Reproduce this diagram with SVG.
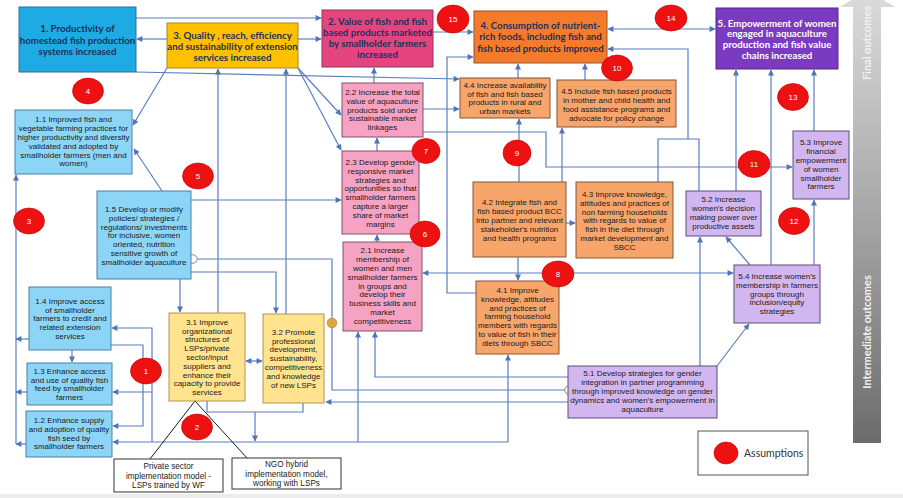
<svg xmlns="http://www.w3.org/2000/svg" width="903" height="498" viewBox="0 0 903 498">
<defs>
<marker id="ah" viewBox="0 0 10 10" refX="9" refY="5" markerWidth="7" markerHeight="6" markerUnits="userSpaceOnUse" orient="auto-start-reverse"><path d="M0,0 L10,5 L0,10 z" fill="#4F74BA"/></marker>
<linearGradient id="gg" x1="0" y1="0" x2="0" y2="1"><stop offset="0" stop-color="#dcdcdc"/><stop offset="0.5" stop-color="#a6a6a6"/><stop offset="1" stop-color="#6c6c6c"/></linearGradient>
</defs>
<style>
.c{fill:none;stroke:#5B7EC2;stroke-width:1.2}
.a{marker-end:url(#ah)}
.b{marker-start:url(#ah);marker-end:url(#ah)}
.t{font-family:"Lato","Liberation Sans",sans-serif;font-weight:bold;font-size:9.7px;fill:#1F2F5E;text-anchor:middle}
.s{font-family:"Liberation Sans",Arial,sans-serif;font-size:8px;fill:#1a1a1a;text-anchor:middle}
.bl{fill:#8DD5F6;stroke:#4A7FA6;stroke-width:1}
.gl{fill:#FFE38F;stroke:#B3964D;stroke-width:1}
.pl{fill:#F6A2C2;stroke:#7E5266;stroke-width:1}
.ol{fill:#F7A56B;stroke:#7E5638;stroke-width:1}
.vl{fill:#D2B6F0;stroke:#5B4C78;stroke-width:1}
.wb{fill:#fff;stroke:#333;stroke-width:1}
.r{fill:#EE1111;stroke:#C00000;stroke-width:0.6}
.rn{font-family:"Liberation Sans",Arial,sans-serif;font-size:8px;fill:#fff;text-anchor:middle}
</style>
<rect width="903" height="498" fill="#fff"/>
<rect x="0" y="494" width="903" height="4" fill="#ececec"/>
<!-- outcome arrow -->
<g id="outcome-arrow">
<polygon points="853,443 881,443 881,7 895,7 867,-10 840,7 853,7" fill="url(#gg)"/>
<text transform="translate(871,43) rotate(-90)" font-family="Lato,'Open Sans',sans-serif" font-weight="bold" font-size="11px" fill="#f2f2f2" text-anchor="middle">Final outcomes</text>
<text transform="translate(871,332) rotate(-90)" font-family="Lato,'Open Sans',sans-serif" font-weight="bold" font-size="11px" fill="#f2f2f2" text-anchor="middle">Intermediate outcomes</text>
</g>
<!-- connectors -->
<g id="connectors">
<path class="c a" d="M136,18 H321"/>
<path class="c a" d="M167,39 H137"/>
<path class="c a" d="M298,39 H321"/>
<path class="c a" d="M136,72 L459,79"/>
<path class="c a" d="M433,32 H473"/>
<path class="c b" d="M608,29 H715"/>
<path class="c" d="M658,182 V139 H699 V191"/>
<path class="c a" d="M688,139 V49 H608"/>
<path class="c a" d="M736,191 V70"/>
<path class="c a" d="M771,265 V70"/>
<path class="c a" d="M814,131 V70"/>
<path class="c a" d="M814,265 V200"/>
<path class="c a" d="M750,265 L726,237"/>
<path class="c a" d="M700,366 V237"/>
<path class="c a" d="M717,366 L749,324"/>
<path class="c a" d="M423,132 H546 V167 H792"/>
<path class="c a" d="M423,109 H459"/>
<path class="c a" d="M518,78 V64"/>
<path class="c a" d="M585,80 V64"/>
<path class="c a" d="M476,293 H447 V57 H473"/>
<path class="c a" d="M519,182 V119"/>
<path class="c a" d="M562,182 V128"/>
<path class="c a" d="M566,223 H575"/>
<path class="c a" d="M518,257 V280"/>
<path class="c b" d="M423,273 H733"/>
<path class="c a" d="M377,242 V235"/>
<path class="c a" d="M377,151 V138"/>
<path class="c a" d="M374,83 V68"/>
<path class="c a" d="M298,68 L341,115"/>
<path class="c a" d="M298,68 L341,150"/>
<path class="c a" d="M218,313 V69"/>
<path class="c a" d="M286,314 V69"/>
<path class="c a" d="M167,68 L133,125"/>
<path class="c a" d="M162,191 L134,149"/>
<path class="c a" d="M16,444 V175"/>
<path class="c a" d="M29,339 H16"/>
<path class="c a" d="M27,392 H16"/>
<path class="c a" d="M26,444 H16"/>
<path class="c a" d="M72,350 V362"/>
<path class="c" d="M207,401 V412 H303 V403"/>
<path class="c a" d="M255,412 V441"/>
<path class="c b" d="M113,442 H508 V355"/>
<path class="c a" d="M358,442 V332"/>
<path class="c a" d="M152,442 V328 H112"/>
<path class="c a" d="M152,392 H113"/>
<path class="c a" d="M111,345 H143 V426 H113"/>
<path class="c a" d="M568,377 H375 V332"/>
<path class="c a" d="M180,279 V312"/>
<path class="c a" d="M191,272 H276 V313"/>
<path class="c a" d="M191,200 H341"/>
<path class="c" d="M197,259 H332 V390 H565"/>
<path class="c a" d="M568,402 H326"/>
<path class="c b" d="M246,361 H262"/>
<path d="M150,459 L195,401 L247,458" fill="none" stroke="#1a1a1a" stroke-width="1"/>
<circle cx="193" cy="259" r="4.2" fill="#fff" stroke="#888" stroke-width="1"/>
<circle cx="569" cy="390" r="4.2" fill="#fff" stroke="#888" stroke-width="1"/>
<circle cx="332" cy="323" r="4.8" fill="#E3A63E" stroke="#B58A40" stroke-width="0.8"/>
</g>
<!-- final outcomes -->
<g id="n1"><rect x="19" y="7" width="117" height="65" fill="#1EABE4" stroke="#2F6E9E"/>
<text class="t"><tspan x="77.5" y="32">1. Productivity of</tspan><tspan x="77.5" y="43.5">homestead fish production</tspan><tspan x="77.5" y="55">systems increased</tspan></text></g>
<g id="n3"><rect x="167" y="23" width="131" height="45" fill="#FFC000" stroke="#A8862A"/>
<text class="t"><tspan x="232.5" y="38.7">3. Quality , reach, efficiency</tspan><tspan x="232.5" y="49.7">and sustainability of extension</tspan><tspan x="232.5" y="60.7">services increased</tspan></text></g>
<g id="n2"><rect x="322" y="10" width="111" height="57" fill="#E5457E" stroke="#8E3456"/>
<text class="t"><tspan x="377.5" y="25">2. Value of fish and fish</tspan><tspan x="377.5" y="36">based products marketed</tspan><tspan x="377.5" y="47">by smallholder farmers</tspan><tspan x="377.5" y="58">increased</tspan></text></g>
<g id="n4"><rect x="474" y="11" width="133" height="52" fill="#F47B2C" stroke="#9A5228"/>
<text class="t"><tspan x="540.5" y="29">4. Consumption of nutrient-</tspan><tspan x="540.5" y="40.3">rich foods, including fish and</tspan><tspan x="540.5" y="51.6">fish based products improved</tspan></text></g>
<g id="n5"><rect x="716" y="8" width="122" height="61" fill="#7B3AC2" stroke="#4E2A80"/>
<text class="t" style="fill:#fff"><tspan x="777" y="26.5">5. Empowerment of women</tspan><tspan x="777" y="37.2">engaged in aquaculture</tspan><tspan x="777" y="47.9">production and fish value</tspan><tspan x="777" y="58.6">chains increased</tspan></text></g>
<!-- intermediate -->
<g id="n1_1"><rect class="bl" x="15" y="110" width="117" height="64"/>
<text class="s"><tspan x="73.5" y="122.3">1.1 Improved fish and</tspan><tspan x="73.5" y="131.1">vegetable farming practices for</tspan><tspan x="73.5" y="139.9">higher productivity and diversity</tspan><tspan x="73.5" y="148.7">validated and adopted by</tspan><tspan x="73.5" y="157.5">smallholder farmers (men and</tspan><tspan x="73.5" y="166.3">women)</tspan></text></g>
<g id="n1_5"><rect class="bl" x="97" y="191" width="94" height="88"/>
<text class="s"><tspan x="144" y="212">1.5 Develop or modify</tspan><tspan x="144" y="220.8">policies/ strategies /</tspan><tspan x="144" y="229.6">regulations/  investments</tspan><tspan x="144" y="238.4">for inclusive, women</tspan><tspan x="144" y="247.2">oriented, nutrition</tspan><tspan x="144" y="256">sensitive growth of</tspan><tspan x="144" y="264.8">smallholder aquaculture</tspan></text></g>
<g id="n1_4"><rect class="bl" x="29" y="287" width="82" height="63"/>
<text class="s"><tspan x="70" y="303.7">1.4 Improve access</tspan><tspan x="70" y="312.5">of smallholder</tspan><tspan x="70" y="321.3">farmers to credit and</tspan><tspan x="70" y="330.1">related extension</tspan><tspan x="70" y="338.9">services</tspan></text></g>
<g id="n1_3"><rect class="bl" x="27" y="363" width="85" height="42"/>
<text class="s"><tspan x="69.5" y="373.7">1.3 Enhance access</tspan><tspan x="69.5" y="382.5">and use of quality fish</tspan><tspan x="69.5" y="391.3">feed by smallholder</tspan><tspan x="69.5" y="400.1">farmers</tspan></text></g>
<g id="n1_2"><rect class="bl" x="26" y="411" width="86" height="46"/>
<text class="s"><tspan x="69" y="423">1.2 Enhance supply</tspan><tspan x="69" y="431.8">and adoption of quality</tspan><tspan x="69" y="440.6">fish seed by</tspan><tspan x="69" y="449.4">smallholder farmers</tspan></text></g>
<g id="n3_1"><rect class="gl" x="169" y="313" width="76" height="88"/>
<text class="s"><tspan x="207" y="324.7">3.1 Improve</tspan><tspan x="207" y="333.5">organizational</tspan><tspan x="207" y="342.3">structures of</tspan><tspan x="207" y="351.1">LSPs/private</tspan><tspan x="207" y="359.9">sector/input</tspan><tspan x="207" y="368.7">suppliers and</tspan><tspan x="207" y="377.5">enhance their</tspan><tspan x="207" y="386.3">capacity to provide</tspan><tspan x="207" y="395.1">services</tspan></text></g>
<g id="n3_2"><rect class="gl" x="263" y="314" width="61" height="89"/>
<text class="s"><tspan x="293.5" y="334.7">3.2 Promote</tspan><tspan x="293.5" y="343.5">professional</tspan><tspan x="293.5" y="352.3">development,</tspan><tspan x="293.5" y="361.1">sustainability,</tspan><tspan x="293.5" y="369.9">competitiveness</tspan><tspan x="293.5" y="378.7">and knowledge</tspan><tspan x="293.5" y="387.5">of new LSPs</tspan></text></g>
<g id="m_private"><rect class="wb" x="114" y="459" width="109" height="33"/>
<text class="s" style="font-size:8.2px"><tspan x="168.5" y="469">Private sector</tspan><tspan x="168.5" y="478.5">implementation model -</tspan><tspan x="168.5" y="488">LSPs trained by WF</tspan></text></g>
<g id="m_ngo"><rect class="wb" x="232" y="458" width="109" height="31"/>
<text class="s" style="font-size:8.2px"><tspan x="286.5" y="467.3">NGO hybrid</tspan><tspan x="286.5" y="476.8">implementation model,</tspan><tspan x="286.5" y="486.3">working with LSPs</tspan></text></g>
<g id="n2_2"><rect class="pl" x="342" y="83" width="81" height="54"/>
<text class="s"><tspan x="382.5" y="95">2.2 Increase the total</tspan><tspan x="382.5" y="103.8">value of aquaculture</tspan><tspan x="382.5" y="112.6">products sold under</tspan><tspan x="382.5" y="121.4">sustainable market</tspan><tspan x="382.5" y="130.2">linkages</tspan></text></g>
<g id="n2_3"><rect class="pl" x="342" y="151" width="77" height="83"/>
<text class="s"><tspan x="380.5" y="165">2.3 Develop gender</tspan><tspan x="380.5" y="173.8">responsive market</tspan><tspan x="380.5" y="182.6">strategies and</tspan><tspan x="380.5" y="191.4">opportunities so that</tspan><tspan x="380.5" y="200.2">smallholder farmers</tspan><tspan x="380.5" y="209">capture a larger</tspan><tspan x="380.5" y="217.8">share of market</tspan><tspan x="380.5" y="226.6">margins</tspan></text></g>
<g id="n2_1"><rect class="pl" x="343" y="242" width="79" height="89"/>
<text class="s"><tspan x="382.5" y="253.3">2.1 Increase</tspan><tspan x="382.5" y="262.1">membership of</tspan><tspan x="382.5" y="270.9">women and men</tspan><tspan x="382.5" y="279.7">smallholder farmers</tspan><tspan x="382.5" y="288.5">in groups and</tspan><tspan x="382.5" y="297.3">develop their</tspan><tspan x="382.5" y="306.1">business skills and</tspan><tspan x="382.5" y="314.9">market</tspan><tspan x="382.5" y="323.7">competitiveness</tspan></text></g>
<g id="n4_4"><rect class="ol" x="460" y="78" width="90" height="40"/>
<text class="s"><tspan x="505" y="87.7">4.4 Increase availability</tspan><tspan x="505" y="96.5">of fish and fish based</tspan><tspan x="505" y="105.3">products in rural and</tspan><tspan x="505" y="114.1">urban markets</tspan></text></g>
<g id="n4_5"><rect class="ol" x="557" y="80" width="119" height="47"/>
<text class="s"><tspan x="616.5" y="93.7">4.5 Include fish based products</tspan><tspan x="616.5" y="102.7">in mother and child health and</tspan><tspan x="616.5" y="111.7">food assistance programs and</tspan><tspan x="616.5" y="120.7">advocate for policy change</tspan></text></g>
<g id="n4_2"><rect class="ol" x="473" y="182" width="93" height="75"/>
<text class="s"><tspan x="519.5" y="205.3">4.2 Integrate fish and</tspan><tspan x="519.5" y="214.1">fish based product BCC</tspan><tspan x="519.5" y="222.9">into partner and relevant</tspan><tspan x="519.5" y="231.7">stakeholder's nutrition</tspan><tspan x="519.5" y="240.5">and health programs</tspan></text></g>
<g id="n4_3"><rect class="ol" x="576" y="182" width="97" height="76"/>
<text class="s"><tspan x="624.5" y="197">4.3 Improve knowledge,</tspan><tspan x="624.5" y="205.8">attitudes and practices of</tspan><tspan x="624.5" y="214.6">non farming households</tspan><tspan x="624.5" y="223.4">with regards to value of</tspan><tspan x="624.5" y="232.2">fish in the diet through</tspan><tspan x="624.5" y="241">market development and</tspan><tspan x="624.5" y="249.8">SBCC</tspan></text></g>
<g id="n4_1"><rect class="ol" x="476" y="281" width="83" height="73"/>
<text class="s"><tspan x="517.5" y="293">4.1  Improve</tspan><tspan x="517.5" y="301.8">knowledge, attitudes</tspan><tspan x="517.5" y="310.6">and practices of</tspan><tspan x="517.5" y="319.4">farming household</tspan><tspan x="517.5" y="328.2">members with regards</tspan><tspan x="517.5" y="337">to value of fish in their</tspan><tspan x="517.5" y="345.8">diets through SBCC</tspan></text></g>
<g id="n5_2"><rect class="vl" x="686" y="191" width="75" height="45"/>
<text class="s"><tspan x="723.5" y="202.3">5.2 Increase</tspan><tspan x="723.5" y="211.1">women's decision</tspan><tspan x="723.5" y="219.9">making power over</tspan><tspan x="723.5" y="228.7">productive assets</tspan></text></g>
<g id="n5_3"><rect class="vl" x="793" y="131" width="56" height="68"/>
<text class="s"><tspan x="821" y="145.3">5.3 Improve</tspan><tspan x="821" y="154.1">financial</tspan><tspan x="821" y="162.9">empowerment</tspan><tspan x="821" y="171.7">of women</tspan><tspan x="821" y="180.5">smallholder</tspan><tspan x="821" y="189.3">farmers</tspan></text></g>
<g id="n5_4"><rect class="vl" x="734" y="265" width="86" height="58"/>
<text class="s"><tspan x="777" y="279">5.4 Increase women's</tspan><tspan x="777" y="287.8">membership in farmers</tspan><tspan x="777" y="296.6">groups through</tspan><tspan x="777" y="305.4">inclusion/equity</tspan><tspan x="777" y="314.2">strategies</tspan></text></g>
<g id="n5_1"><rect class="vl" x="568" y="366" width="149" height="52"/>
<text class="s"><tspan x="642.5" y="376.3">5.1 Develop strategies for gender</tspan><tspan x="642.5" y="385.1">integration in partner programming</tspan><tspan x="642.5" y="393.9">through improved knowledge on gender</tspan><tspan x="642.5" y="402.7">dynamics and women's empowerment in</tspan><tspan x="642.5" y="411.5">aquaculture</tspan></text></g>
<!-- assumptions -->
<g id="assumptions">
<ellipse class="r" cx="146" cy="371" rx="15.5" ry="13"/><text class="rn" x="146" y="374">1</text>
<ellipse class="r" cx="197" cy="427" rx="15.5" ry="13"/><text class="rn" x="197" y="430">2</text>
<ellipse class="r" cx="29" cy="221" rx="15.5" ry="13"/><text class="rn" x="29" y="224">3</text>
<ellipse class="r" cx="88" cy="91" rx="15.5" ry="13"/><text class="rn" x="88" y="94">4</text>
<ellipse class="r" cx="198" cy="176" rx="15.5" ry="13"/><text class="rn" x="198" y="179">5</text>
<ellipse class="r" cx="425" cy="234" rx="15" ry="13"/><text class="rn" x="425" y="237">6</text>
<ellipse class="r" cx="426" cy="151" rx="14" ry="12.5"/><text class="rn" x="426" y="154">7</text>
<ellipse class="r" cx="558" cy="274" rx="16" ry="13"/><text class="rn" x="558" y="277">8</text>
<ellipse class="r" cx="517" cy="153" rx="14" ry="13"/><text class="rn" x="517" y="156">9</text>
<ellipse class="r" cx="617" cy="68" rx="15.5" ry="13"/><text class="rn" x="617" y="71">10</text>
<ellipse class="r" cx="754" cy="164" rx="16" ry="13.5"/><text class="rn" x="754" y="167">11</text>
<ellipse class="r" cx="794" cy="221" rx="15.5" ry="13.5"/><text class="rn" x="794" y="224">12</text>
<ellipse class="r" cx="793" cy="97" rx="15.5" ry="13.5"/><text class="rn" x="793" y="100">13</text>
<ellipse class="r" cx="671" cy="18" rx="16" ry="13"/><text class="rn" x="671" y="21">14</text>
<ellipse class="r" cx="453" cy="19" rx="16" ry="14"/><text class="rn" x="453" y="22">15</text>
</g>
<g id="legend"><rect x="698" y="431" width="110" height="44" fill="#fff" stroke="#555" stroke-width="1"/>
<ellipse class="r" cx="726" cy="453" rx="12" ry="11"/>
<text x="744" y="457" font-family="Lato,'Open Sans',sans-serif" font-size="10.5px" fill="#333">Assumptions</text></g>
</svg>
